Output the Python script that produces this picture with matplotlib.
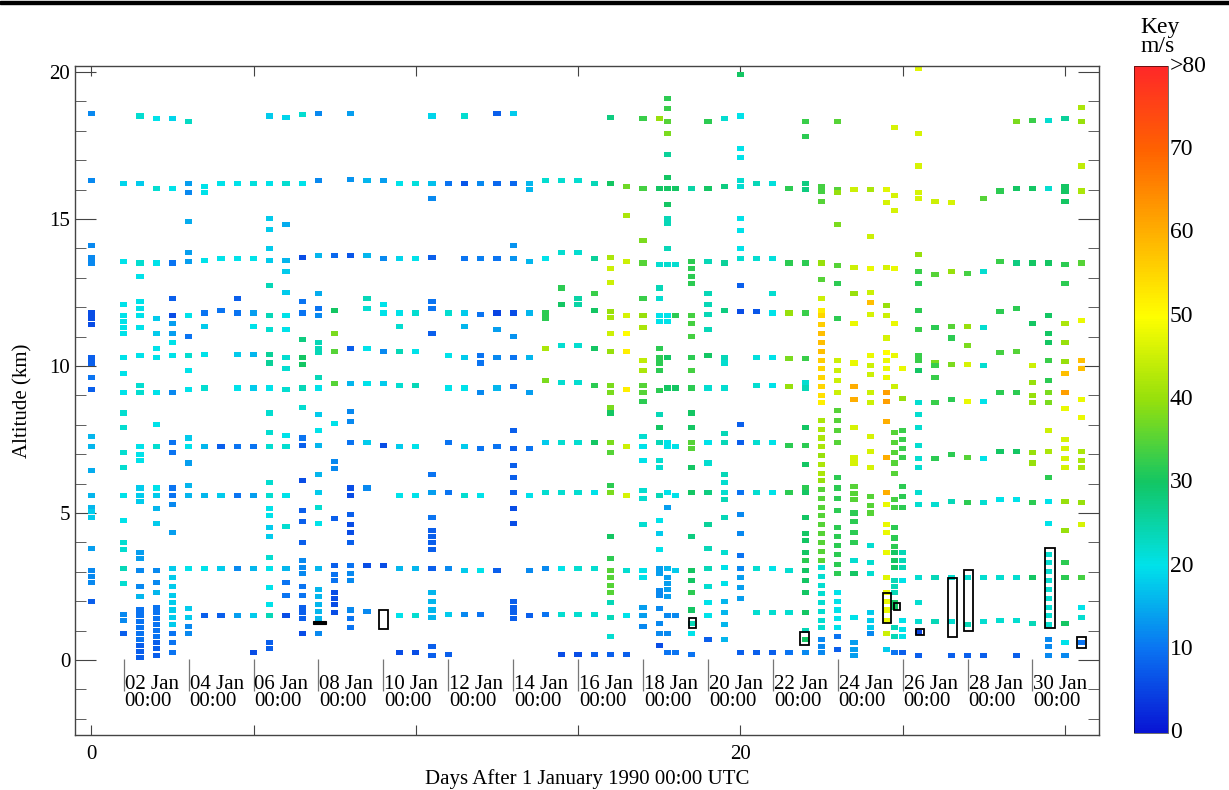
import numpy as np
import matplotlib as mpl
import matplotlib.pyplot as plt
from matplotlib.colors import LinearSegmentedColormap, Normalize
from matplotlib.patches import Rectangle

plt.rcParams['font.family'] = ['Liberation Serif', 'DejaVu Serif']

# wind speed (m/s) per sounding: (day, [(altitude km, speed), ...])
jan01_07 = [
    (0.0, [(18.6,12),(16.3,12),(14.1,12),(13.7,12),(13.5,12),(11.8,6),(11.6,6),(11.4,6),(10.3,8),(10.1,8),(9.6,10),(9.2,8),(7.6,16),(7.25,16),(6.45,15),(5.6,16),(5.2,16),(5.05,18),(4.85,18),(3.8,14),(3.05,12),(2.85,12),(2.65,12),(2.0,8)]),
    (1.0, [(16.2,19),(13.55,20),(12.1,20),(11.7,20),(11.5,20),(11.3,20),(11.1,20),(10.3,20),(9.75,20),(9.1,20),(8.4,22),(7.9,22),(7.05,22),(6.55,22),(5.6,20),(4.75,20),(4.0,22),(3.75,22),(3.1,24),(2.6,22),(1.55,12),(1.35,12),(0.9,8)]),
    (1.5, [(18.5,22),(16.2,18),(13.5,22),(13.05,20),(12.2,20),(11.95,20),(11.7,20),(11.3,20),(10.35,20),(9.35,22),(9.1,22),(7.25,20),(7.0,20),(6.8,20),(5.85,18),(5.6,18),(5.4,18),(3.65,14),(3.45,14),(3.05,12),(2.5,12),(2.15,16),(1.7,10),(1.5,10),(1.3,10),(1.1,10),(0.9,10),(0.7,10),(0.5,8),(0.3,8),(0.1,8)]),
    (2.0, [(18.4,20),(16.05,22),(13.5,20),(11.6,18),(11.1,18),(10.6,20),(10.3,20),(9.1,20),(8.0,20),(7.25,22),(5.85,20),(5.6,18),(5.15,16),(4.65,18),(3.05,12),(2.65,12),(2.3,16),(1.8,10),(1.6,10),(1.4,10),(1.2,10),(1.0,10),(0.8,10),(0.6,8),(0.4,8),(0.15,8)]),
    (2.5, [(18.4,19),(16.05,20),(13.5,10),(12.3,8),(11.7,6),(11.45,14),(11.1,14),(10.8,20),(10.35,20),(9.1,12),(7.4,10),(7.05,10),(5.85,10),(5.6,10),(5.3,12),(4.35,14),(3.1,18),(2.8,18),(2.5,18),(2.2,18),(1.95,18),(1.7,18),(1.45,18),(1.2,18),(0.9,10),(0.6,10),(0.25,10)]),
    (3.0, [(18.3,23),(16.2,14),(15.9,12),(14.9,15),(13.85,14),(13.55,14),(11.7,20),(11.0,10),(10.35,22),(9.85,20),(9.2,20),(7.55,18),(7.25,20),(6.7,14),(5.95,16),(5.6,16),(3.1,20),(1.75,18),(1.45,18),(1.15,12),(0.9,12)]),
    (3.5, [(16.1,20),(15.9,20),(13.6,20),(11.8,10),(11.35,18),(10.4,20),(9.25,22),(7.25,16),(5.6,16),(3.1,20),(1.5,8)]),
    (4.0, [(16.2,20),(13.65,20),(11.9,10),(7.25,8),(5.6,18),(3.1,18),(1.5,8)]),
    (4.5, [(16.2,20),(13.65,20),(12.3,8),(11.8,10),(10.4,18),(9.25,20),(7.25,10),(5.6,10),(3.1,12),(1.5,14)]),
    (5.0, [(16.2,21),(13.65,20),(11.8,14),(11.35,20),(10.4,16),(9.25,18),(7.25,10),(5.6,14),(3.1,16),(1.5,18),(0.25,6)]),
    (5.5, [(18.5,18),(16.2,20),(15.0,18),(14.65,18),(14.0,18),(13.6,18),(12.75,24),(11.7,24),(11.25,22),(10.4,26),(10.1,26),(9.25,20),(8.4,22),(7.75,22),(7.25,22),(6.05,22),(5.6,22),(5.15,20),(4.9,20),(4.5,18),(4.2,18),(3.5,22),(3.1,20),(2.45,20),(1.9,20),(1.5,24),(0.6,8),(0.4,8)]),
    (6.0, [(18.45,19),(16.2,22),(14.8,15),(13.6,16),(13.2,18),(12.5,18),(11.7,20),(11.25,20),(10.3,22),(9.9,22),(9.2,22),(7.65,20),(7.25,22),(5.6,20),(4.55,22),(3.1,16),(2.65,10),(2.2,10),(1.5,6)]),
    (6.5, [(18.55,22),(16.2,20),(13.7,6),(12.2,10),(11.8,10),(10.9,28),(10.3,30),(10.05,30),(9.25,24),(8.6,22),(7.55,10),(7.3,8),(6.1,6),(5.1,8),(4.7,8),(4.0,8),(3.4,12),(3.15,12),(2.95,12),(2.5,10),(2.2,10),(1.8,8),(1.6,8),(1.4,8),(0.9,6)]),
    (7.0, [(18.6,12),(16.3,12),(13.75,16),(12.45,15),(11.95,10),(11.7,12),(10.8,24),(10.6,24),(10.45,24),(9.6,24),(9.25,20),(8.35,18),(7.8,20),(7.3,16),(6.3,16),(5.7,18),(5.2,22),(4.65,20),(3.1,16),(2.4,16),(2.15,16),(1.9,16),(1.65,16),(1.4,16),(0.9,12)]),
    (7.5, [(13.75,9),(11.9,30),(11.1,38),(10.5,35),(9.4,35),(8.05,20),(6.75,12),(6.5,12),(4.8,8),(3.2,8),(2.9,10),(2.7,10),(2.3,6),(2.1,6),(1.9,6),(1.6,6)]),
]

jan08_14 = [
    (8.0, [(18.6,14),(16.35,13),(13.75,7),(10.6,8),(9.4,16),(8.45,12),(8.1,12),(7.4,10),(5.85,6),(5.6,6),(4.95,8),(4.6,6),(4.35,6),(4.0,8),(3.2,10),(2.95,12),(2.7,12),(1.7,12),(1.4,10),(1.1,10)]),
    (8.5, [(16.3,16),(13.75,16),(12.3,24),(11.95,22),(10.6,20),(9.4,20),(7.4,18),(5.85,12),(3.2,6),(1.65,12)]),
    (9.0, [(16.3,14),(13.65,12),(12.1,20),(11.8,20),(10.5,12),(9.4,18),(7.3,6),(3.2,6)]),
    (9.5, [(16.2,20),(13.65,19),(11.8,20),(11.35,22),(10.5,24),(9.35,22),(7.25,18),(5.6,20),(3.1,16),(1.5,20),(0.25,6)]),
    (10.0, [(16.2,21),(13.65,20),(11.8,22),(10.5,20),(9.35,24),(7.25,20),(5.6,20),(3.1,16),(1.5,22),(0.25,6)]),
    (10.5, [(18.5,19),(16.2,17),(15.7,12),(13.7,8),(12.2,10),(11.95,10),(11.1,8),(6.3,10),(5.7,14),(4.85,10),(4.4,8),(4.2,8),(4.0,8),(3.75,8),(3.1,8),(2.3,16),(2.0,16),(1.7,16),(1.45,16),(0.45,8),(0.15,8)]),
    (11.0, [(16.2,10),(11.8,22),(10.35,20),(9.25,20),(7.4,10),(5.7,10),(3.1,12),(1.55,18),(0.2,8)]),
    (11.5, [(18.5,22),(16.2,7),(13.65,10),(11.8,18),(11.35,16),(10.3,18),(9.25,20),(7.25,18),(5.6,22),(3.05,18),(1.55,12)]),
    (12.0, [(16.2,12),(13.65,11),(11.75,10),(10.35,10),(10.1,10),(9.1,12),(7.2,10),(5.6,20),(3.05,20),(1.55,10)]),
    (12.5, [(18.6,8),(16.2,9),(13.65,10),(11.8,5),(11.25,14),(10.3,12),(9.25,16),(7.25,10),(3.05,8)]),
    (13.0, [(18.6,18),(16.2,9),(14.1,13),(13.65,13),(11.8,6),(11.0,13),(10.3,10),(9.3,10),(7.8,8),(7.2,8),(6.6,8),(6.2,8),(5.7,8),(5.15,6),(4.65,6),(2.0,8),(1.8,8),(1.6,8),(1.4,8)]),
    (13.5, [(16.2,16),(16.0,16),(13.55,16),(11.8,16),(10.3,16),(9.1,14),(7.2,10),(5.6,20),(3.05,12),(1.5,8)]),
    (14.0, [(16.3,22),(13.65,20),(11.8,32),(11.6,32),(10.6,42),(9.5,38),(7.4,18),(5.7,22),(3.1,12),(1.55,10)]),
    (14.5, [(16.3,22),(13.85,22),(12.65,32),(12.1,30),(10.7,22),(9.45,22),(7.4,22),(5.7,22),(3.1,20),(1.55,22),(0.2,6)]),
]

jan15_21 = [
    (15.0, [(16.3,22),(13.85,22),(12.3,25),(12.1,25),(10.7,22),(9.45,22),(7.4,22),(5.7,22),(3.1,22),(1.55,22),(0.2,6)]),
    (15.5, [(16.2,24),(13.65,26),(12.45,33),(11.9,30),(10.6,30),(9.35,32),(7.4,30),(5.7,20),(3.1,22),(1.55,22),(0.2,8)]),
    (16.0, [(18.45,28),(16.2,30),(13.7,42),(13.3,45),(12.85,45),(11.85,40),(11.65,42),(11.1,45),(10.5,40),(9.35,38),(9.1,38),(8.6,38),(8.4,30),(7.4,38),(7.05,35),(5.95,32),(5.7,38),(4.2,30),(3.45,32),(3.05,35),(2.8,35),(2.55,35),(2.3,35),(1.95,24),(1.45,24),(0.8,22),(0.2,8)]),
    (16.5, [(16.1,37),(15.1,42),(13.55,45),(11.7,46),(11.1,50),(10.5,52),(9.2,52),(7.25,45),(5.6,46),(3.05,22),(1.5,20),(0.2,8)]),
    (17.0, [(18.4,33),(16.05,34),(14.25,38),(13.5,35),(12.3,33),(11.7,40),(11.3,42),(10.2,44),(9.85,42),(9.35,35),(9.1,35),(8.8,32),(7.6,22),(7.25,20),(6.8,20),(5.75,22),(5.5,22),(4.6,22),(3.05,20),(2.8,20),(1.8,14),(1.5,14),(1.15,12)]),
    (17.5, [(18.4,40),(16.05,30),(13.45,22),(12.65,24),(12.3,22),(11.7,20),(11.5,20),(10.6,32),(10.3,32),(10.1,32),(9.85,32),(9.15,32),(8.35,24),(7.9,30),(7.4,24),(6.8,22),(6.55,22),(5.6,24),(4.75,20),(4.3,18),(3.75,20),(3.1,14),(2.95,14),(2.35,12),(2.2,12),(1.75,12),(1.25,12),(0.9,12),(0.5,6)]),
    (17.75, [(19.1,32),(18.75,33),(18.3,35),(17.9,38),(17.2,26),(16.4,30),(16.05,30),(15.5,30),(15.0,24),(14.85,24),(14.0,24),(13.45,22),(11.7,20),(11.5,20),(10.3,30),(9.25,30),(7.4,20),(7.25,20),(5.7,20),(5.2,14),(3.1,16),(2.8,14),(2.6,14),(2.4,14),(2.15,14),(1.5,12),(0.9,12),(0.25,10)]),
    (18.0, [(16.05,30),(13.45,22),(11.7,32),(9.25,30),(7.25,20),(5.6,20),(3.05,18),(1.5,12),(0.25,10)]),
    (18.5, [(16.05,25),(13.55,32),(13.3,32),(13.05,32),(12.8,32),(11.7,34),(11.45,34),(11.0,34),(10.3,32),(9.85,34),(9.25,32),(8.4,30),(7.9,30),(7.4,35),(7.2,35),(6.55,30),(5.7,30),(4.2,28),(3.05,30),(2.7,30),(2.3,32),(1.7,30),(1.25,24),(0.9,20),(0.2,10)]),
    (19.0, [(18.3,32),(16.05,30),(13.55,24),(12.45,24),(12.1,24),(11.75,24),(11.25,24),(10.35,30),(9.25,22),(7.4,20),(6.7,22),(5.7,28),(4.6,26),(3.8,24),(3.1,24),(2.5,22),(1.95,20),(1.5,20),(0.7,8)]),
    (19.5, [(18.4,22),(16.1,28),(13.5,26),(11.9,28),(10.3,24),(10.1,22),(9.25,22),(7.7,24),(7.4,24),(6.3,24),(6.05,22),(5.7,22),(5.45,24),(4.85,24),(3.65,22),(3.15,20),(2.6,20),(2.0,16),(1.6,16),(1.2,16),(0.7,16)]),
    (20.0, [(19.9,30),(18.5,20),(17.4,20),(17.1,20),(16.3,22),(16.1,22),(15.0,20),(14.6,20),(14.0,20),(13.65,22),(12.75,8),(11.85,6),(8.0,8),(7.4,8),(5.7,10),(4.95,12),(4.3,12),(3.55,10),(3.1,12),(2.8,14),(2.45,14),(2.1,14),(0.25,8)]),
    (20.5, [(16.2,24),(13.65,22),(11.85,7),(10.3,21),(9.35,22),(7.4,22),(5.7,22),(3.1,22),(1.6,22),(0.25,8)]),
    (21.0, [(16.2,21),(13.65,21),(12.45,22),(11.8,20),(10.3,20),(9.35,20),(7.4,20),(5.7,20),(3.1,20),(1.6,22),(0.25,8)]),
    (21.5, [(16.05,32),(13.5,32),(11.8,40),(10.25,38),(9.3,40),(7.3,32),(5.7,32),(3.05,22),(1.6,22),(0.25,10)]),
]

jan22_31 = [
    (22.0, [(18.3,33),(17.8,32),(16.2,28),(16.0,28),(13.5,32),(11.8,33),(10.25,33),(9.45,22),(9.25,24),(7.9,30),(7.3,32),(6.65,30),(5.85,32),(5.7,30),(4.85,30),(4.3,30),(4.05,30),(3.65,30),(3.4,32),(3.05,30),(2.7,30),(2.3,30),(1.6,30),(1.0,24),(0.7,30),(0.25,12)]),
    (22.5, [(16.1,34),(15.95,34),(15.6,35),(13.5,40),(12.95,35),(12.3,45),(11.9,52),(11.7,55),(11.4,56),(11.1,58),(10.8,58),(10.5,58),(10.2,56),(9.9,55),(9.6,55),(9.3,55),(9.0,54),(8.75,52),(8.15,42),(7.85,42),(7.55,42),(7.25,42),(6.95,40),(6.65,42),(6.35,42),(6.1,40),(5.8,35),(5.5,35),(5.2,35),(4.9,35),(4.6,35),(4.3,35),(4.0,35),(3.7,35),(3.4,35),(3.15,22),(2.85,22),(2.55,22),(2.25,22),(1.95,22),(1.65,22),(1.35,22),(1.1,22),(0.7,12),(0.45,12),(0.25,12)]),
    (23.0, [(18.3,35),(16.0,35),(15.9,40),(14.8,38),(13.4,35),(12.8,32),(11.6,32),(10.2,45),(9.85,45),(9.5,45),(9.1,45),(8.5,35),(8.15,35),(7.8,35),(7.4,35),(6.2,32),(5.85,32),(5.5,32),(5.1,32),(4.5,32),(4.2,32),(3.9,32),(3.6,32),(3.25,32),(2.95,32),(2.3,20),(2.0,20),(1.7,20),(1.4,20),(1.1,20),(0.8,10),(0.35,8)]),
    (23.5, [(16.0,45),(13.35,45),(12.45,40),(11.45,48),(10.1,48),(9.3,60),(8.85,60),(7.9,46),(6.9,46),(6.7,46),(5.9,35),(5.65,35),(5.45,35),(5.0,32),(4.7,32),(4.35,32),(4.0,32),(3.4,22),(2.95,30),(1.45,20),(0.6,14),(0.35,14),(0.15,14)]),
    (24.0, [(16.0,42),(14.4,45),(13.3,48),(12.5,45),(12.15,58),(11.75,46),(10.35,48),(10.0,45),(9.7,45),(9.1,45),(8.75,45),(7.6,46),(7.1,46),(6.55,46),(5.55,35),(5.25,35),(5.0,35),(3.9,22),(3.3,22),(2.95,22),(1.6,18),(1.35,18),(1.1,18),(0.9,12)]),
    (24.5, [(16.0,47),(15.55,46),(13.35,46),(12.05,40),(11.7,45),(10.95,46),(10.45,50),(10.2,48),(9.9,48),(9.6,48),(9.1,62),(8.8,62),(8.1,60),(6.9,60),(5.7,60),(5.3,48),(4.6,48),(4.35,48),(3.65,48),(2.8,47),(2.3,48),(2.0,48),(1.7,48),(1.35,48),(0.9,45),(0.35,18)]),
    (24.75, [(18.1,46),(15.8,46),(15.3,46),(13.3,48),(11.45,48),(10.35,48),(9.3,45),(7.75,35),(7.4,35),(7.05,35),(6.7,35),(6.35,35),(5.45,34),(5.2,34),(4.5,32),(4.15,32),(3.85,32),(3.65,30),(3.4,30),(3.15,30),(2.7,24),(2.5,24),(2.3,24),(1.95,30),(1.8,30),(1.1,24),(0.8,24),(0.25,10)]),
    (25.0, [(9.9,48),(8.9,40),(7.8,33),(7.5,33),(7.2,33),(6.9,33),(5.9,32),(5.55,32),(5.2,32),(3.65,24),(3.4,24),(3.15,24),(2.7,20),(1.35,20),(1.05,20),(0.8,20),(0.25,8)]),
    (25.5, [(20.1,47),(17.9,46),(16.8,46),(15.9,46),(15.7,46),(13.8,40),(13.2,33),(12.8,32),(11.9,32),(11.25,33),(10.35,33),(10.2,33),(9.85,30),(8.75,22),(8.35,22),(7.9,22),(7.3,22),(6.85,22),(6.55,22),(5.7,22),(5.3,22),(2.8,22),(1.95,22),(1.3,22),(0.95,5),(0.15,8)]),
    (26.0, [(15.6,45),(13.1,35),(11.3,32),(10.1,38),(10.0,33),(9.6,33),(8.75,33),(6.85,32),(5.3,22),(2.8,24),(1.3,24)]),
    (26.5, [(15.55,46),(13.2,40),(11.35,35),(10.95,32),(10.05,38),(8.85,32),(7.0,32),(5.4,24),(2.8,22),(1.3,22),(0.15,8)]),
    (27.0, [(13.15,34),(11.35,40),(10.7,38),(10.05,46),(8.8,48),(6.9,35),(5.35,32),(2.8,22),(1.2,24),(0.15,8)]),
    (27.5, [(15.7,35),(13.2,22),(11.3,22),(10.0,22),(8.8,20),(6.85,20),(5.35,22),(2.8,22),(1.3,22),(0.15,8)]),
    (28.0, [(15.95,32),(13.55,33),(11.85,32),(10.45,34),(9.1,32),(7.1,30),(5.45,20),(2.8,22),(1.35,22)]),
    (28.5, [(18.3,38),(16.05,30),(13.5,28),(11.95,32),(10.5,35),(9.1,32),(7.1,30),(5.45,20),(2.8,22),(1.35,22),(0.15,8)]),
    (29.0, [(18.35,33),(16.05,30),(13.5,30),(11.45,30),(10.0,45),(9.45,40),(9.0,40),(8.75,40),(7.05,40),(6.7,40),(5.35,32),(2.8,30),(1.25,24)]),
    (29.5, [(18.35,22),(16.05,22),(13.5,30),(11.7,30),(11.1,30),(10.8,30),(10.2,33),(9.5,32),(9.1,38),(8.75,38),(7.8,45),(7.1,42),(6.2,32),(5.4,20),(4.65,20),(3.6,22),(3.3,22),(3.0,22),(2.7,22),(2.4,22),(2.1,22),(1.8,22),(1.5,22),(1.2,22),(0.7,12),(0.45,12),(0.15,12)]),
    (30.0, [(18.4,26),(16.1,30),(15.95,30),(15.6,30),(13.45,32),(12.8,32),(11.45,42),(10.8,40),(10.15,40),(9.75,58),(9.1,62),(8.55,48),(7.5,46),(7.2,46),(6.85,46),(6.55,46),(5.4,40),(4.4,40),(3.3,32),(2.8,32),(1.25,30),(0.6,20),(0.15,12)]),
    (30.5, [(18.8,42),(18.3,40),(16.8,44),(15.95,42),(13.5,35),(11.55,48),(10.2,58),(9.9,58),(8.85,48),(8.25,48),(7.1,42),(6.8,42),(6.55,42),(5.35,40),(4.6,46),(2.8,34),(1.8,20),(1.45,22),(0.6,10)]),
]

# outlined boxes (day0, day1, alt0, alt1)
open_boxes = [(8.88, 9.15, 1.05, 1.7), (18.43, 18.64, 1.1, 1.43), (21.85, 22.13, 0.5, 0.95),
              (24.41, 24.65, 1.25, 2.28), (24.72, 24.93, 1.7, 1.94), (25.42, 25.67, 0.85, 1.05),
              (26.41, 26.69, 0.78, 2.79), (26.9, 27.18, 0.99, 3.06), (29.4, 29.68, 1.09, 3.8),
              (30.38, 30.66, 0.4, 0.78)]
dark_bars = [(6.84, 7.24, 1.24, 1.32)]

date_days = list(range(1, 30, 2))
date_labels = ['%02d Jan\n00:00' % (d + 1) for d in date_days]

key_vals = [0, 10, 20, 30, 40, 50, 60, 70, 80]
key_labels = ['0', '10', '20', '30', '40', '50', '60', '70', '>80']
key_colors = ['#0814d4', '#0a74f2', '#00e2ea', '#12c664', '#96e00c', '#ffff00', '#ffb000', '#ff6200', '#ff2828']

cmap = LinearSegmentedColormap.from_list('key', [(v / 80, c) for v, c in zip(key_vals, key_colors)])

cols = jan01_07 + jan08_14 + jan15_21 + jan22_31
day = np.array([d for d, pts in cols for a, s in pts])
alt = np.array([a for d, pts in cols for a, s in pts])
spd = np.array([s for d, pts in cols for a, s in pts])

fig = plt.figure(figsize=(12.29, 7.90), dpi=100)
ax = fig.add_axes([75/1229, 1 - 735/790, 1024/1229, 669/790])

box = [(-1, -0.7), (1, -0.7), (1, 0.7), (-1, 0.7)]
ax.scatter(day, alt, c=spd, cmap=cmap, vmin=0, vmax=80, marker=box, s=27, linewidths=0, zorder=2)

for d0, d1, a0, a1 in open_boxes:
    ax.add_patch(Rectangle((d0, a0), d1 - d0, a1 - a0, fill=False, ec='black', lw=1.3, zorder=3))
for d0, d1, a0, a1 in dark_bars:
    ax.add_patch(Rectangle((d0, a0), d1 - d0, a1 - a0, fc='black', ec='black', lw=0.8, zorder=3))

# date axis drawn along the ground line
ax.vlines(date_days, -1.05, 0.05, color='#777777', lw=0.9, zorder=1)
for d, lab in zip(date_days, date_labels):
    ax.text(d + 0.03, -0.5, lab, ha='left', va='top', fontsize=15, linespacing=0.85, zorder=1)

ax.set_xlim(-0.5, 31.05)
ax.set_ylim(-2.55, 20.2)
ax.set_xticks(range(0, 31, 5))
ax.set_xticklabels(['0', '', '', '', '20', '', ''])
ax.set_yticks([0, 5, 10, 15, 20])
ax.set_yticks(np.arange(-2, 20, 1), minor=True)
ax.tick_params(axis='x', direction='in', length=7, top=True, labelsize=15, pad=7, color='#444444')
ax.tick_params(axis='y', which='major', direction='in', length=15, right=True, labelsize=15, color='#444444')
ax.tick_params(axis='y', which='minor', direction='in', length=8, right=True, color='#444444')
for sp in ax.spines.values():
    sp.set_color('#444444')
    sp.set_linewidth(1.0)
ax.set_xlabel('Days After 1 January 1990 00:00 UTC', fontsize=15, labelpad=4)
ax.set_ylabel('Altitude (km)', fontsize=15, labelpad=12)

# key
cax = fig.add_axes([1134/1229, 1 - 733/790, 34/1229, 667/790])
cb = mpl.colorbar.ColorbarBase(cax, cmap=cmap, norm=Normalize(0, 80))
cb.set_ticks([])
cb.outline.set_linewidth(0.4)
for v, lab in zip(key_vals, key_labels):
    cax.text(1.05, v / 80, lab, transform=cax.transAxes, ha='left', va='center', fontsize=17)
fig.text(1160/1229, 1 - 27/790, 'Key', ha='center', va='center', fontsize=17)
fig.text(1158/1229, 1 - 46/790, 'm/s', ha='center', va='center', fontsize=17)

fig.add_artist(Rectangle((0, 1 - 4/790), 1, 3/790, transform=fig.transFigure, color='black'))

fig.savefig('out.png', dpi=100)
